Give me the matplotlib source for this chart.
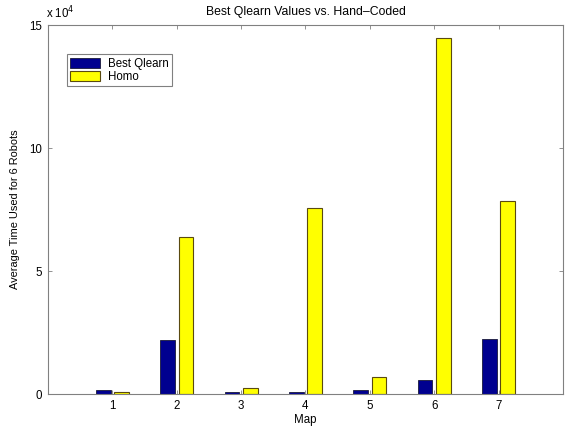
import matplotlib
matplotlib.use("Agg")
import matplotlib.pyplot as plt
from matplotlib.ticker import FuncFormatter
import numpy as np

maps = [1, 2, 3, 4, 5, 6, 7]
best_qlearn = [1600, 22100, 900, 900, 1600, 5500, 22200]
homo = [900, 63700, 2600, 75500, 6900, 144700, 78600]

plt.rcParams['font.family'] = ['Liberation Sans', 'DejaVu Sans']
fs = 8.3

fig = plt.figure(figsize=(5.69, 4.26), dpi=100)
ax = fig.add_axes([0.0844, 0.0751, 0.905, 0.866])

x = np.array(maps)
w = 0.2286
off = 0.143
ax.bar(x - off, best_qlearn, width=w, color="#00008f", edgecolor="#1a1a3a",
       linewidth=0.6, label="Best Qlearn")
ax.bar(x + off, homo, width=w, color="#ffff00", edgecolor="#5a4a10",
       linewidth=0.8, label="Homo")

ax.set_xlim(0, 8)
ax.set_ylim(0, 150000)
ax.set_xticks(maps)
ax.set_yticks([0, 50000, 100000, 150000])
ax.yaxis.set_major_formatter(FuncFormatter(lambda v, p: f"{v / 1e4:g}"))
ax.tick_params(direction="in", top=True, right=True, labelsize=fs,
               length=3, color="#808080", width=0.6, pad=4)
for s in ax.spines.values():
    s.set_color("#808080")
    s.set_linewidth(0.8)

ax.text(-0.003, 1.01, r"x 10$^4$", transform=ax.transAxes, fontsize=fs,
        ha="left", va="bottom")
ax.set_title("Best Qlearn Values vs. Hand\u2013Coded", fontsize=8.8, pad=7)
ax.set_xlabel("Map", fontsize=fs, labelpad=2)
ax.set_ylabel("Average Time Used for 6 Robots", fontsize=7.9, labelpad=7)

leg = ax.legend(loc="upper left", bbox_to_anchor=(0.025, 0.937), fontsize=fs,
                fancybox=False, edgecolor="#808080", framealpha=1,
                handlelength=2.6, handleheight=1.0, borderpad=0.3,
                labelspacing=0.1, handletextpad=0.7)
leg.get_frame().set_linewidth(0.8)

fig.savefig("out.png", dpi=100)
